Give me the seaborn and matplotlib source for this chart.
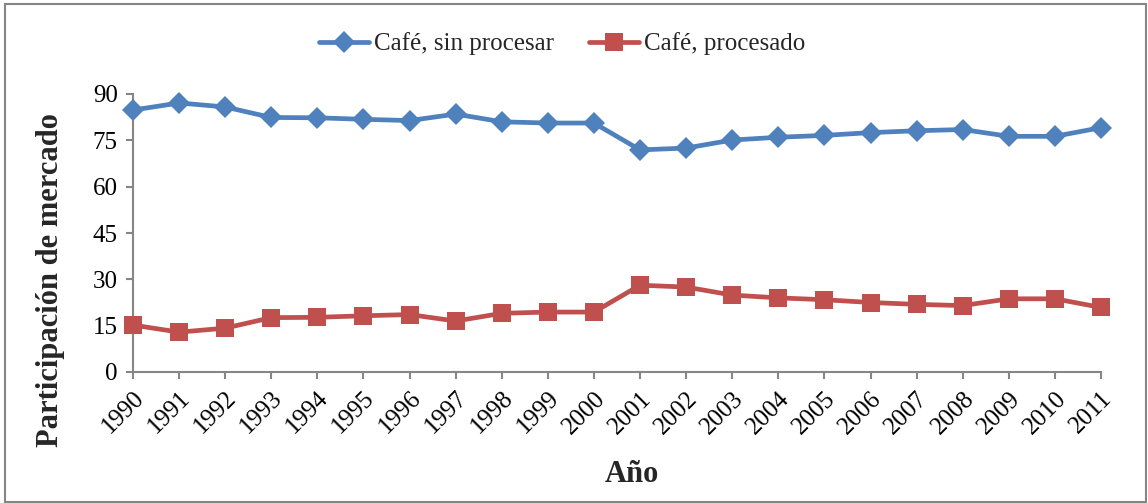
import matplotlib
matplotlib.use("Agg")
import matplotlib.pyplot as plt
import seaborn as sns
import pandas as pd
from matplotlib.patches import Rectangle

# Market share of coffee exports, unprocessed vs processed (%)
years = list(range(1990, 2012))
sin_procesar = [84.8, 87.1, 85.8, 82.4, 82.3, 81.8, 81.4, 83.5, 81.0, 80.6, 80.6,
                71.9, 72.5, 75.1, 76.0, 76.6, 77.5, 78.1, 78.5, 76.3, 76.3, 79.1]
procesado = [15.2, 12.9, 14.2, 17.6, 17.7, 18.2, 18.6, 16.5, 19.0, 19.4, 19.4,
             28.1, 27.5, 24.9, 24.0, 23.4, 22.5, 21.9, 21.5, 23.7, 23.7, 20.9]
series_names = ["Café, sin procesar", "Café, procesado"]
yticks = [0, 15, 30, 45, 60, 75, 90]

df = pd.DataFrame({
    "Año": years * 2,
    "Participación": sin_procesar + procesado,
    "Serie": [series_names[0]] * len(years) + [series_names[1]] * len(years),
})

sns.set_theme(style="white")
plt.rcParams["font.family"] = ["Liberation Serif", "DejaVu Serif"]

grey = "#868686"
colors = {series_names[0]: "#4F81BD", series_names[1]: "#C0504D"}
markers = {series_names[0]: "D", series_names[1]: "s"}
msizes = {series_names[0]: 11.5, series_names[1]: 13.5}

fig = plt.figure(figsize=(11.48, 5.03), dpi=100)
ax = fig.add_axes([133 / 1148, 1 - 372 / 503, 968 / 1148, 278 / 503])

for name in series_names:
    sub = df[df["Serie"] == name]
    sns.lineplot(data=sub, x="Año", y="Participación", ax=ax, color=colors[name],
                 marker=markers[name], markersize=msizes[name], markeredgewidth=0,
                 linewidth=3.4, label=name, clip_on=False, zorder=3)

ax.set_xlim(1990, 2011)
ax.set_ylim(0, 90)
ax.set_yticks(yticks)
ax.set_yticklabels([str(v) for v in yticks], fontsize=18)
ax.set_xticks(years)
ax.set_xticklabels([str(y) for y in years], rotation=45, ha="right",
                   rotation_mode="anchor", fontsize=18)

for side in ["top", "right"]:
    ax.spines[side].set_visible(False)
for side in ["left", "bottom"]:
    ax.spines[side].set_color(grey)
    ax.spines[side].set_linewidth(1.5)
ax.tick_params(axis="both", which="major", direction="out", length=5, width=1.5,
               color=grey, labelcolor="black")
ax.tick_params(axis="x", pad=6)
ax.tick_params(axis="y", pad=6)
ax.tick_params(left=True, bottom=True)

ax.set_xlabel("Año", fontsize=22, fontweight="bold")
ax.xaxis.set_label_coords(0.515, -0.37)
ax.xaxis.label.set_va("center")
ax.set_ylabel("Participación de mercado", fontsize=22, fontweight="bold")
ax.yaxis.set_label_coords(-0.085, 0.331)
ax.yaxis.label.set_va("center")

handles, labels = ax.get_legend_handles_labels()
ax.get_legend().remove()
fig.legend(handles, labels, loc="center", bbox_to_anchor=(0.49, 1 - 44 / 503),
           ncol=2, frameon=False, fontsize=18, handlelength=2.0,
           handletextpad=0.2, columnspacing=1.4)

# chart frame
fig.patches.append(Rectangle((5 / 1148, 1 / 503), 1141 / 1148, 498 / 503,
                             transform=fig.transFigure, fill=False,
                             edgecolor=grey, linewidth=1.5))

fig.savefig("out.png", dpi=100)
